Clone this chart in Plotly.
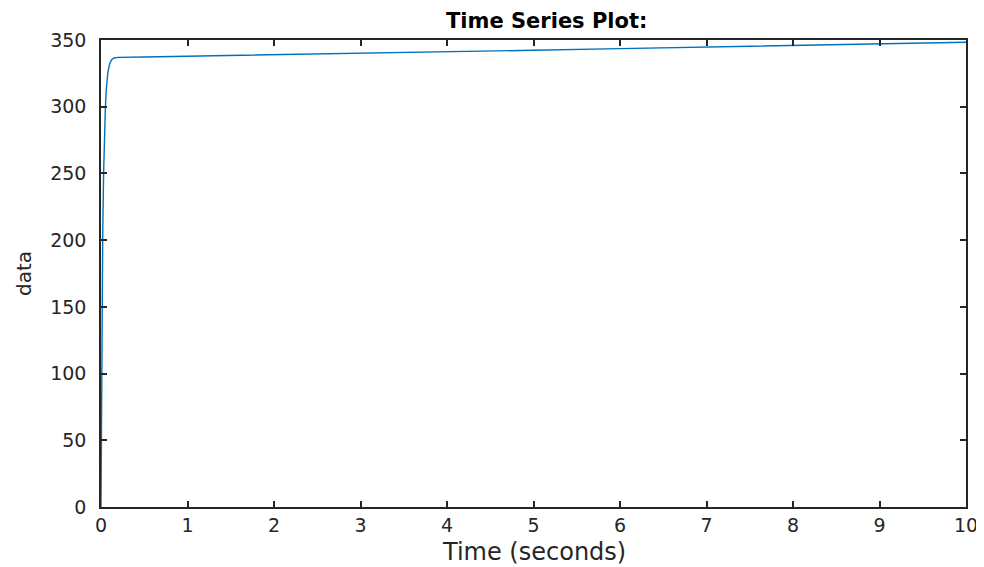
import plotly.graph_objects as go

# Time (s) and data values
time_s = [0, 0.005, 0.01, 0.015, 0.02, 0.03, 0.04, 0.05, 0.06, 0.08, 0.10, 0.12,
          0.15, 0.2, 0.5, 1, 2, 3, 4, 5, 6, 7, 8, 9, 10]
data_vals = [0, 60, 120, 170, 205, 250, 280, 298, 312, 326, 332, 335,
             336.5, 337, 337.3, 337.8, 338.8, 339.9, 341.1, 342.3, 343.5, 344.7,
             345.9, 347.1, 348.3]

x_ticks = list(range(0, 11))
y_ticks = [0, 50, 100, 150, 200, 250, 300, 350]

title_text = "Time Series Plot:"
x_title = "Time (seconds)"
y_title = "data"

# page body has an 8px margin; compensate so the plot box lands at
# left=101, right=966, top=40, bottom=507 in the window
OFF = 8
W, H = 984, 567
L, T = 101 - OFF, 40 - OFF
R = W - (966 - OFF)
B = H - (507 - OFF)
PW = W - L - R
PH = H - T - B

fig = go.Figure()
fig.add_trace(go.Scatter(x=time_s, y=data_vals, mode="lines",
                         line=dict(color="#0072BD", width=1.4),
                         showlegend=False, hoverinfo="skip"))

axis_common = dict(showline=True, linecolor="#262626", linewidth=1.5, mirror="ticks",
                   ticks="inside", ticklen=6, tickwidth=1.5, tickcolor="#262626",
                   showgrid=False, zeroline=False,
                   tickfont=dict(family="DejaVu Sans", size=19, color="#262626"))

fig.update_xaxes(range=[0, 10], tickvals=x_ticks, ticklabelstandoff=0, **axis_common)
fig.update_yaxes(range=[0, 350], tickvals=y_ticks, ticklabelstandoff=9, **axis_common)

fig.update_layout(
    width=W, height=H,
    margin=dict(l=L, r=R, t=T, b=B, pad=0),
    plot_bgcolor="white", paper_bgcolor="white",
    annotations=[
        dict(text="<b>" + title_text + "</b>", xref="paper", yref="paper",
             x=(546 - 101) / PW, y=1, yshift=(40 - 21), xanchor="center", yanchor="middle",
             showarrow=False, font=dict(family="DejaVu Sans", size=21, color="black")),
        dict(text=x_title, xref="paper", yref="paper",
             x=(534 - 101) / PW, y=0, yshift=-(552 - 507), xanchor="center", yanchor="middle",
             showarrow=False, font=dict(family="DejaVu Sans", size=24, color="#262626")),
        dict(text=y_title, xref="paper", yref="paper",
             x=0, xshift=-(101 - 24), y=(507 - 274) / (507 - 40), textangle=-90,
             xanchor="center", yanchor="middle",
             showarrow=False, font=dict(family="DejaVu Sans", size=20, color="#262626")),
    ],
)

fig.write_html("out.html")
